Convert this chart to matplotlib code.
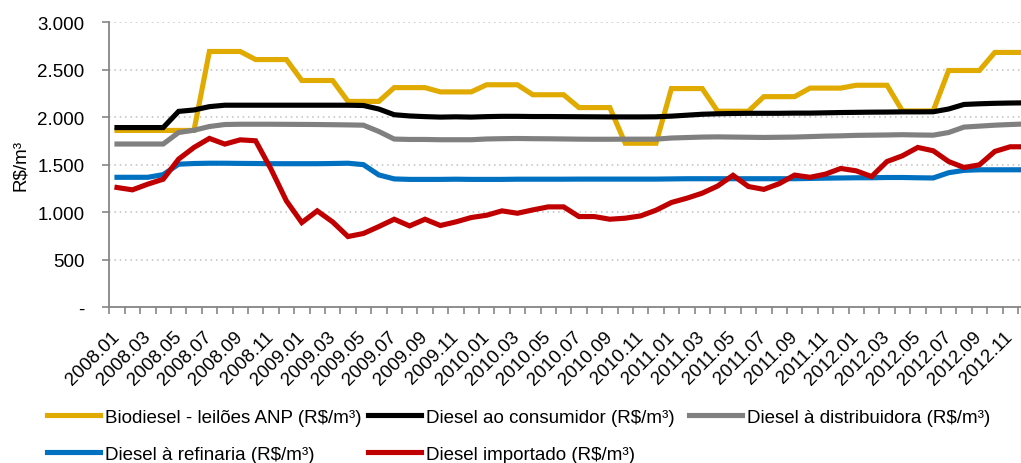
import matplotlib
matplotlib.use('Agg')
import matplotlib.pyplot as plt
from matplotlib.ticker import FixedLocator, FuncFormatter

plt.rcParams['font.family'] = ['Liberation Sans', 'DejaVu Sans']
FS = 13.5

# months 2008.01 .. 2012.12
meses = [
	'2008.01','2008.02','2008.03','2008.04','2008.05','2008.06','2008.07','2008.08','2008.09','2008.10','2008.11','2008.12',
	'2009.01','2009.02','2009.03','2009.04','2009.05','2009.06','2009.07','2009.08','2009.09','2009.10','2009.11','2009.12',
	'2010.01','2010.02','2010.03','2010.04','2010.05','2010.06','2010.07','2010.08','2010.09','2010.10','2010.11','2010.12',
	'2011.01','2011.02','2011.03','2011.04','2011.05','2011.06','2011.07','2011.08','2011.09','2011.10','2011.11','2011.12',
	'2012.01','2012.02','2012.03','2012.04','2012.05','2012.06','2012.07','2012.08','2012.09','2012.10','2012.11','2012.12',
]

biodiesel = [1860,1860,1860,1860,1860,1860, 2690,2690,2690, 2605,2605,2605, 2385,2385,2385, 2165,2165,2165,
	2310,2310,2310, 2265,2265,2265, 2340,2340,2340, 2235,2235,2235, 2100,2100,2100, 1725,1725,1725,
	2300,2300,2300, 2062,2062,2062, 2215,2215,2215, 2305,2305,2305, 2335,2335,2335, 2065,2065,2065,
	2490,2490,2490, 2680,2680,2680]
consumidor = [1890,1890,1890,1890, 2060,2075,2110,2125, 2125,2125,2125,2125,2125,2125,2125,2125,
	2122,2085,2025,2012,2005,2000,2003,2000, 2005,2008,2008,2006,2006,2005,2004,2003,2002,2002,2002,2003,
	2010,2020,2030,2035,2038,2040,2040,2040,2042,2042,2045,2048, 2050,2052,2053,2055,2055,2056,
	2085,2133,2140,2145,2148,2150]
distribuidora = [1717,1717,1717,1717, 1838,1862,1901,1922, 1925,1925,1925,1924,1923,1922,1920,1918,
	1915,1849,1769,1765, 1765,1762,1762,1762, 1770,1773,1775,1773,1772,1770,1768,1767,1767,1768,1768,1768,
	1780,1785,1790,1792,1790,1788,1786,1788,1790,1795,1800,1803, 1808,1810,1812,1815,1812,1810,
	1838,1895,1905,1915,1922,1928]
refinaria = [1367,1367,1367,1395, 1505,1512,1515,1515,1513,1512,1510,1510,1510,1510,1512,1515,
	1500,1392,1350,1345, 1345,1345,1347,1345,1345,1345,1347,1347,1347,1347,1348,1348,1348,1348,1348,1348,
	1350,1352,1352,1352,1352,1352,1352,1352,1352,1355,1358,1360, 1362,1362,1365,1365,1362,1360,
	1415,1440,1446,1446,1446,1446]
importado = [1260,1235,1295,1347,1558,1681,1776,1716,1761,1751,1453,1119,
	891,1014,898,744,776,849,926,856,926,860,898,944,
	968,1014,989,1024,1056,1056,954,954,926,937,961,1021,
	1102,1147,1200,1275,1388,1270,1240,1300,1390,1367,1400,1460,
	1435,1375,1533,1593,1681,1646,1533,1470,1498,1639,1688,1688]

series = [
	('Biodiesel - leilões ANP (R$/m³)', biodiesel, '#E0AA00'),
	('Diesel ao consumidor (R$/m³)', consumidor, '#000000'),
	('Diesel à distribuidora (R$/m³)', distribuidora, '#808080'),
	('Diesel à refinaria (R$/m³)', refinaria, '#0070C0'),
	('Diesel importado (R$/m³)', importado, '#C00000'),
]
# legend slots (pixel x of handle start, pixel y of row centre) - Excel style equal columns
slots = [(47, 418), (368, 418), (689, 418), (47, 455), (368, 455)]

fig = plt.figure(figsize=(10.21, 4.64), dpi=100)
# plot area runs a bit past the right edge, like the cropped original
ax = fig.add_axes([109.3/1021, 155.7/464, 924/1021, 285.3/464])

x = list(range(len(meses)))
lines = []
for name, vals, col in series:
	ln, = ax.plot(x, vals, color=col, lw=3.7, solid_joinstyle='miter', label=name, clip_on=False)
	lines.append(ln)

ax.set_xlim(-0.5, len(meses)-0.5)
ax.set_ylim(0, 3000)
ax.set_yticks([0, 500, 1000, 1500, 2000, 2500, 3000])
ax.yaxis.set_major_formatter(FuncFormatter(lambda v, p: '-' if v == 0 else '{:,.0f}'.format(v).replace(',', '.')))
ax.yaxis.grid(True, color='#BFBFBF', linestyle=(0, (1, 2.5)), lw=1.1)
ax.set_axisbelow(True)

for s in ['top', 'right']:
	ax.spines[s].set_visible(False)
for s in ['left', 'bottom']:
	ax.spines[s].set_color('#868686')
	ax.spines[s].set_linewidth(1.3)

ax.tick_params(axis='y', colors='#868686', length=5, width=1.2, labelcolor='black', labelsize=FS, pad=13)
ax.set_xticks(x[::2])
ax.set_xticklabels(meses[::2], rotation=45, ha='right', va='center', rotation_mode='anchor', fontsize=FS)
ax.tick_params(axis='x', which='major', length=0, pad=19)
ax.xaxis.set_minor_locator(FixedLocator([i - 0.5 for i in range(len(meses)+1)]))
ax.tick_params(axis='x', which='minor', colors='#868686', length=5, width=1.2)

ax.set_ylabel('R\\$/m³', fontsize=FS, labelpad=6)

for ln, (px, py) in zip(lines, slots):
	fig.legend([ln], [ln.get_label().replace('$', '\\$')],
		loc='center left', bbox_to_anchor=(px/1021, 1 - py/464), frameon=False,
		fontsize=FS, handlelength=2.85, handletextpad=0.25,
		borderaxespad=0, borderpad=0)

fig.savefig('out.png', dpi=100)
